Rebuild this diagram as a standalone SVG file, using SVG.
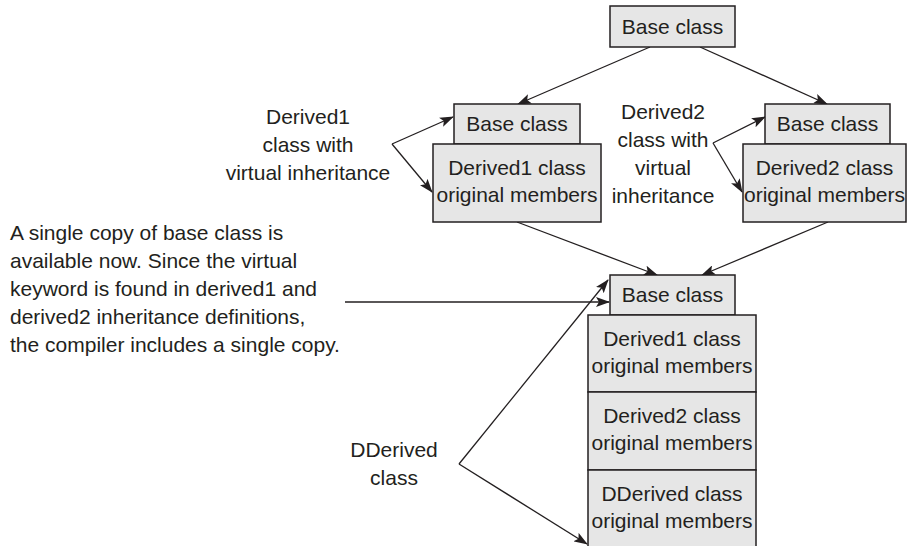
<svg xmlns="http://www.w3.org/2000/svg" width="907" height="546" viewBox="0 0 907 546">
<defs>
<style>
text{font-family:"Liberation Sans",Arial,Helvetica,sans-serif;font-size:21px;fill:#231f20}
.c{text-anchor:middle}
.box{fill:#e6e6e6;stroke:#231f20;stroke-width:1.5}
.ln{fill:none;stroke:#231f20;stroke-width:1.3;marker-end:url(#ah)}
</style>
<marker id="ah" markerUnits="userSpaceOnUse" markerWidth="14" markerHeight="10" viewBox="0 0 14 10" refX="13" refY="5" orient="auto">
<path d="M0,0 L14,5 L0,10 L3,5 Z" fill="#231f20"/>
</marker>
</defs>
<rect width="907" height="546" fill="#ffffff"/>

<g id="connectors">
<line class="ln" x1="650" y1="47" x2="518" y2="104"/>
<line class="ln" x1="700" y1="47" x2="827" y2="104"/>
<polyline class="ln" points="392,144 453,117"/>
<polyline class="ln" points="392,144 432,192"/>
<polyline class="ln" points="713,143 765,117"/>
<polyline class="ln" points="713,143 742,192"/>
<line class="ln" x1="517" y1="222" x2="657" y2="275"/>
<line class="ln" x1="828" y1="222" x2="702" y2="275"/>
<line class="ln" x1="345" y1="302" x2="609" y2="302"/>
<polyline class="ln" points="459,464 608,280"/>
<polyline class="ln" points="459,464 587,544"/>
</g>

<g id="base-top">
<rect class="box" x="610" y="6" width="125" height="41"/>
<text class="c" x="672.5" y="34">Base class</text>
</g>

<g id="derived1">
<rect class="box" x="454" y="104" width="126" height="40"/>
<text class="c" x="517" y="131">Base class</text>
<rect class="box" x="433" y="144" width="168" height="78"/>
<text class="c" x="517" y="175">Derived1 class</text>
<text class="c" x="517" y="202">original members</text>
</g>

<g id="derived2">
<rect class="box" x="765" y="104" width="125" height="40"/>
<text class="c" x="827.5" y="131">Base class</text>
<rect class="box" x="743" y="144" width="163" height="78"/>
<text class="c" x="824.5" y="175">Derived2 class</text>
<text class="c" x="824.5" y="202">original members</text>
</g>

<g id="dderived">
<rect class="box" x="610" y="275" width="125" height="40"/>
<text class="c" x="672.5" y="302">Base class</text>
<rect class="box" x="588" y="315" width="168" height="77"/>
<text class="c" x="672" y="346">Derived1 class</text>
<text class="c" x="672" y="373">original members</text>
<rect class="box" x="588" y="392" width="168" height="78"/>
<text class="c" x="672" y="423">Derived2 class</text>
<text class="c" x="672" y="450">original members</text>
<rect class="box" x="588" y="470" width="168" height="80"/>
<text class="c" x="672" y="501">DDerived class</text>
<text class="c" x="672" y="528">original members</text>
</g>

<g id="label-derived1">
<text class="c" x="308" y="124">Derived1</text>
<text class="c" x="308" y="152">class with</text>
<text class="c" x="308" y="180">virtual inheritance</text>
</g>

<g id="label-derived2">
<text class="c" x="663" y="119">Derived2</text>
<text class="c" x="663" y="147">class with</text>
<text class="c" x="663" y="175">virtual</text>
<text class="c" x="663" y="203">inheritance</text>
</g>

<g id="label-single-copy">
<text x="10" y="240">A single copy of base class is</text>
<text x="10" y="268">available now. Since the virtual</text>
<text x="10" y="296">keyword is found in derived1 and</text>
<text x="10" y="324">derived2 inheritance definitions,</text>
<text x="10" y="352">the compiler includes a single copy.</text>
</g>

<g id="label-dderived">
<text class="c" x="394" y="457">DDerived</text>
<text class="c" x="394" y="485">class</text>
</g>
</svg>
